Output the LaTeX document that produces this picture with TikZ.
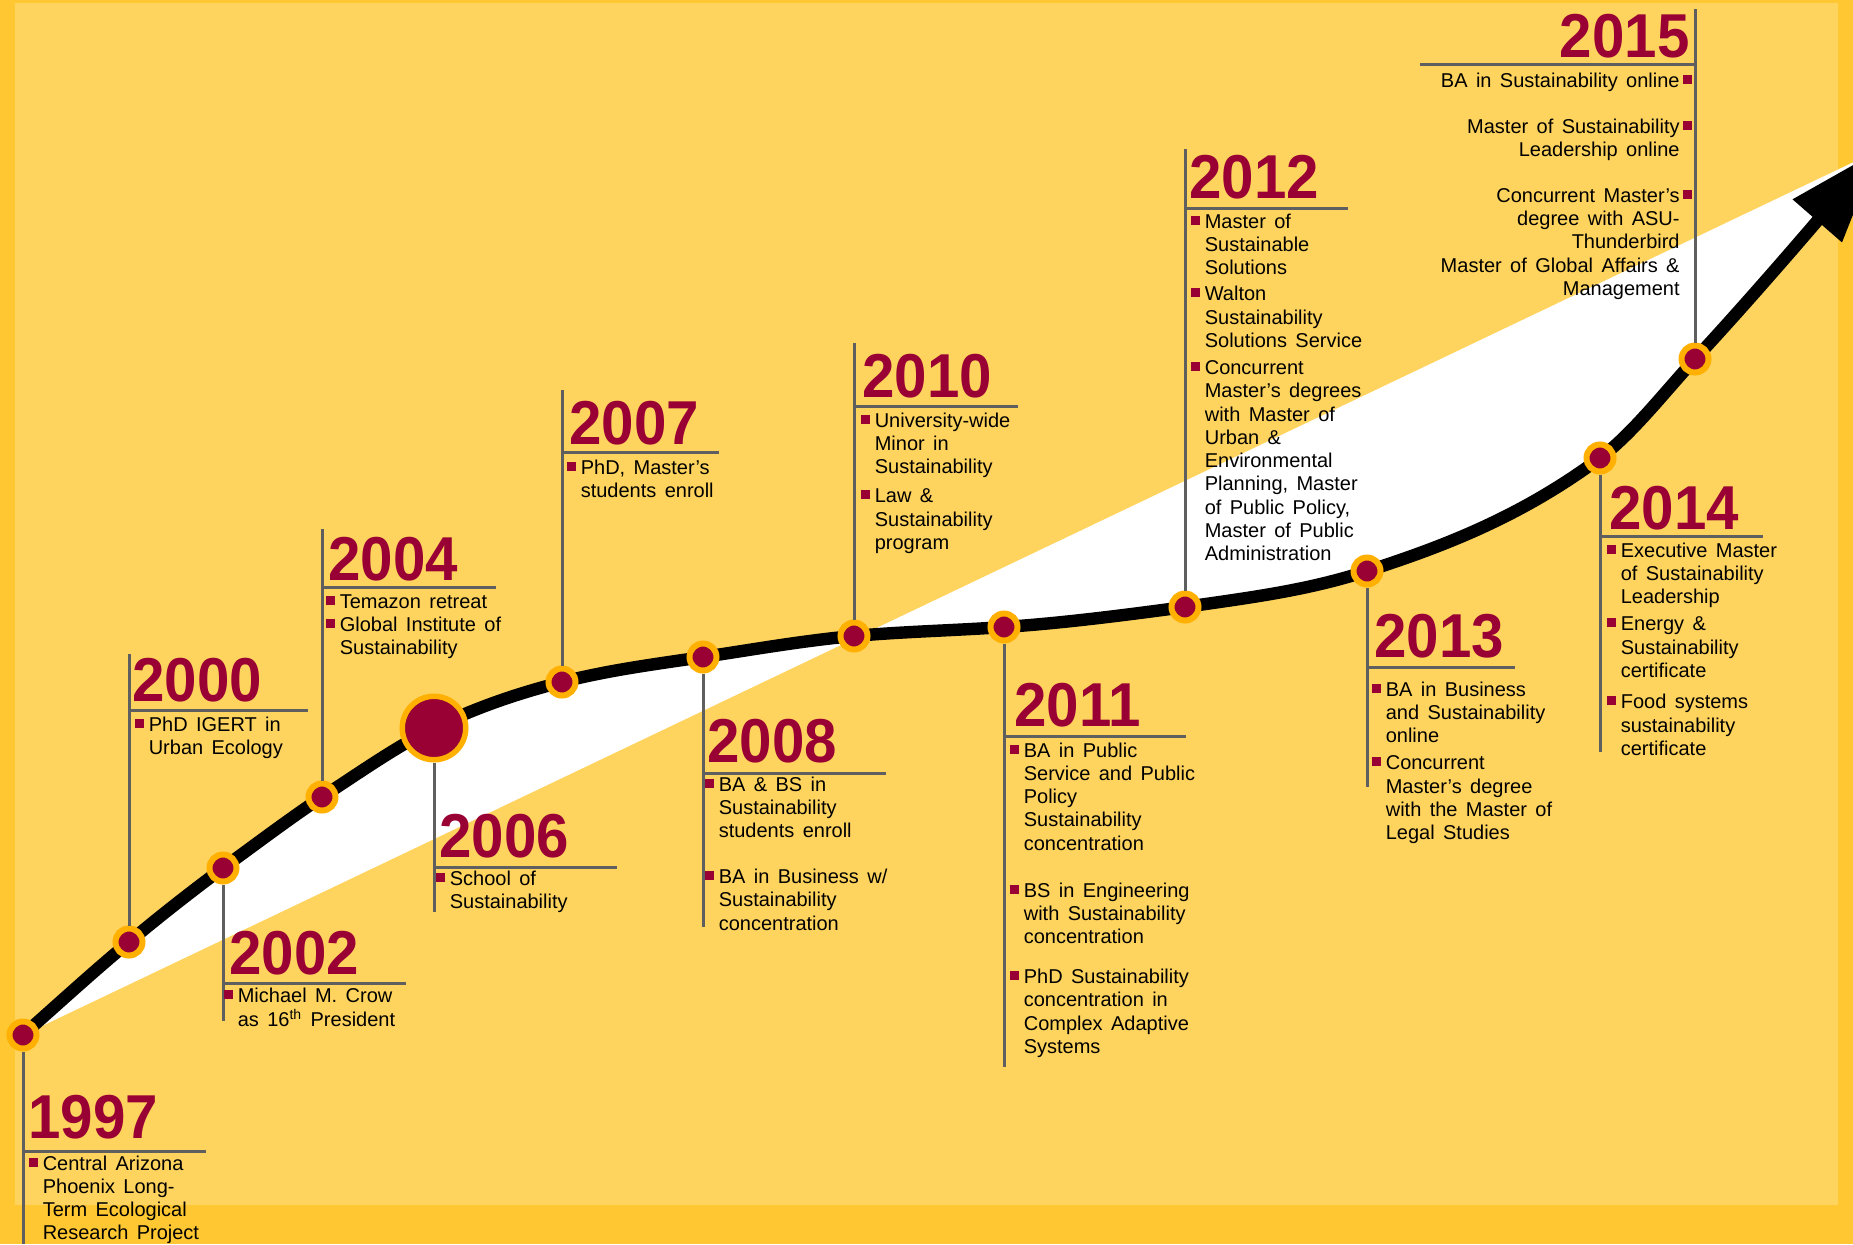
\documentclass[tikz,border=0pt]{standalone}
\usepackage{fontspec}
\setmainfont{Liberation Sans}
\usepackage{graphicx}
\usetikzlibrary{arrows.meta}
\definecolor{asumaroon}{HTML}{990033}
\definecolor{asugold}{HTML}{FFB000}
\definecolor{paper}{HTML}{FFD45E}
\definecolor{paperedge}{HTML}{FFC832}
\definecolor{stemgrey}{HTML}{5F5F5F}

\newcommand{\bul}{\textcolor{asumaroon}{\rule[1.75pt]{4.5pt}{4.5pt}}}
\newcommand{\milestonetext}[1]{\begin{tabular}[t]{@{}l@{\hspace{2.2pt}}l@{}}#1\end{tabular}}
\newcommand{\milestonetextr}[1]{\begin{tabular}[t]{@{}r@{\hspace{1.5pt}}l@{}}#1\end{tabular}}
\newcommand{\yr}[1]{\scalebox{0.94}[1]{#1}}
% the S-shaped line through all the years
\newcommand{\curvepath}{(p1997)
  .. controls +(35,-31) and +(-35,29) .. (p2000)
  .. controls +(31,-26) and +(-31,23) .. (p2002)
  .. controls +(33,-24) and +(-33,22) .. (p2004)
  .. controls +(37,-24) and +(-37,18) .. (p2006)
  .. controls +(43,-21) and +(-43,11) .. (p2007)
  .. controls +(47,-12) and +(-47,7) .. (p2008)
  .. controls +(50,-7.5) and +(-50,4.5) .. (p2010)
  .. controls +(50,-4.5) and +(-50,3.5) .. (p2011)
  .. controls +(60,-4) and +(-60,8) .. (p2012)
  .. controls +(61,-9) and +(-61,20) .. (p2013)
  .. controls +(78,-25) and +(-78,58) .. (p2014)
  .. controls +(32,-24) and +(-32,35) .. (p2015)
  .. controls +(61,-66) and +(-61,70) .. (tip)}

\tikzset{
  milestone/.style={circle, minimum size=13.5pt, inner sep=0pt,
    fill=asumaroon, draw=asugold, line width=3pt},
  bigmilestone/.style={milestone, minimum size=31.75pt, line width=2.75pt},
  stem/.style={draw=stemgrey, line width=1.5pt},
  yearlabel/.style={anchor=base west, inner sep=0pt, text=asumaroon,
    font=\fontsize{31}{31}\selectfont\bfseries},
  info/.style={anchor=base west, inner sep=0pt,
    font={\fontsize{10}{11.65}\selectfont\spaceskip=0.42em\relax}},
  timeline/.style={line width=6.2pt, -{Triangle[length=47pt,width=31pt]}},
}

\begin{document}
\begin{tikzpicture}[x=0.5pt, y=-0.5pt]
\useasboundingbox (0,0) rectangle (1853,1244);
% background
\fill [paperedge] (0,0) rectangle (1853,1244);
\fill [paper] (15,3) rectangle (1838,1205);

% points on the timeline
\coordinate (p1997) at (23,1035);
\coordinate (p2000) at (129,942);
\coordinate (p2002) at (223,868);
\coordinate (p2004) at (322,797);
\coordinate (p2006) at (434,728);
\coordinate (p2007) at (562,682);
\coordinate (p2008) at (703,657);
\coordinate (p2010) at (854,636);
\coordinate (p2011) at (1004,627);
\coordinate (p2012) at (1185,607);
\coordinate (p2013) at (1367,571);
\coordinate (p2014) at (1600,458);
\coordinate (p2015) at (1695,359);
\coordinate (tip) at (1879,150);

\fill [white] \curvepath -- cycle;
\draw [timeline] \curvepath;

% 1997
\node (d1997) [milestone] at (p1997) {};
\coordinate (e1997) at (23,1244);
\draw [stem] (d1997) -- (e1997);
\node (y1997) [yearlabel] at (28,1138) {\yr{1997}};
\draw [stem] (d1997 |- 0,1151) -- (206,1151);
\node (t1997) [info] at (29,1170) {\milestonetext{\bul & Central Arizona\\ & Phoenix Long-\\ & Term Ecological\\ & Research Project}};

% 2000
\node (d2000) [milestone] at (p2000) {};
\coordinate (e2000) at (129,654);
\draw [stem] (d2000) -- (e2000);
\node (y2000) [yearlabel] at (132,701) {\yr{2000}};
\draw [stem] (d2000 |- 0,710) -- (308,710);
\node (t2000) [info] at (135,731) {\milestonetext{\bul & PhD IGERT in\\ & Urban Ecology}};

% 2002
\node (d2002) [milestone] at (p2002) {};
\coordinate (e2002) at (223,1021);
\draw [stem] (d2002) -- (e2002);
\node (y2002) [yearlabel] at (229,974) {\yr{2002}};
\draw [stem] (d2002 |- 0,983) -- (406,983);
\node (t2002) [info] at (224,1002) {\milestonetext{\bul & Michael M. Crow\\ & as 16\textsuperscript{th} President}};

% 2004
\node (d2004) [milestone] at (p2004) {};
\coordinate (e2004) at (322,529);
\draw [stem] (d2004) -- (e2004);
\node (y2004) [yearlabel] at (328,580) {\yr{2004}};
\draw [stem] (d2004 |- 0,587) -- (496,587);
\node (t2004) [info] at (326,608) {\milestonetext{\bul & Temazon retreat\\ \bul & Global Institute of\\ & Sustainability}};

% 2006
\node (d2006) [bigmilestone] at (p2006) {};
\coordinate (e2006) at (434,912);
\draw [stem] (d2006) -- (e2006);
\node (y2006) [yearlabel] at (439,857) {\yr{2006}};
\draw [stem] (d2006 |- 0,867) -- (617,867);
\node (t2006) [info] at (436,885) {\milestonetext{\bul & School of\\ & Sustainability}};

% 2007
\node (d2007) [milestone] at (p2007) {};
\coordinate (e2007) at (562,390);
\draw [stem] (d2007) -- (e2007);
\node (y2007) [yearlabel] at (569,444) {\yr{2007}};
\draw [stem] (d2007 |- 0,452) -- (719,452);
\node (t2007) [info] at (567,474) {\milestonetext{\bul & PhD, Master’s\\ & students enroll}};

% 2008
\node (d2008) [milestone] at (p2008) {};
\coordinate (e2008) at (703,927);
\draw [stem] (d2008) -- (e2008);
\node (y2008) [yearlabel] at (707,762) {\yr{2008}};
\draw [stem] (d2008 |- 0,773) -- (886,773);
\node (t2008) [info] at (705,791) {\milestonetext{\bul & BA \& BS in\\ & Sustainability\\ & students enroll\\[11.35pt]
  \bul & BA in Business w/\\ & Sustainability\\ & concentration}};

% 2010
\node (d2010) [milestone] at (p2010) {};
\coordinate (e2010) at (854,343);
\draw [stem] (d2010) -- (e2010);
\node (y2010) [yearlabel] at (862,397) {\yr{2010}};
\draw [stem] (d2010 |- 0,406) -- (1018,406);
\node (t2010) [info] at (861,427) {\milestonetext{\bul & University-wide\\ & Minor in\\ & Sustainability\\[2.9pt]
  \bul & Law \&\\ & Sustainability\\ & program}};

% 2011
\node (d2011) [milestone] at (p2011) {};
\coordinate (e2011) at (1004,1067);
\draw [stem] (d2011) -- (e2011);
\node (y2011) [yearlabel] at (1014,726) {\yr{2011}};
\draw [stem] (d2011 |- 0,736) -- (1186,736);
\node (t2011) [info] at (1010,757) {\milestonetext{\bul & BA in Public\\ & Service and Public\\ & Policy\\ & Sustainability\\ & concentration\\[11.8pt]
  \bul & BS in Engineering\\ & with Sustainability\\ & concentration\\[8.3pt]
  \bul & PhD Sustainability\\ & concentration in\\ & Complex Adaptive\\ & Systems}};

% 2012
\node (d2012) [milestone] at (p2012) {};
\coordinate (e2012) at (1185,149);
\draw [stem] (d2012) -- (e2012);
\node (y2012) [yearlabel] at (1189,198) {\yr{2012}};
\draw [stem] (d2012 |- 0,208) -- (1348,208);
\node (t2012) [info] at (1191,228) {\milestonetext{\bul & Master of\\ & Sustainable\\ & Solutions\\[1.5pt]
  \bul & Walton\\ & Sustainability\\ & Solutions Service\\[1.8pt]
  \bul & Concurrent\\ & Master’s degrees\\ & with Master of\\ & Urban \&\\ & Environmental\\ & Planning, Master\\ & of Public Policy,\\ & Master of Public\\ & Administration}};

% 2013
\node (d2013) [milestone] at (p2013) {};
\coordinate (e2013) at (1367,787);
\draw [stem] (d2013) -- (e2013);
\node (y2013) [yearlabel] at (1374,657) {\yr{2013}};
\draw [stem] (d2013 |- 0,667) -- (1515,667);
\node (t2013) [info] at (1372,696) {\milestonetext{\bul & BA in Business\\ & and Sustainability\\ & online\\[2pt]
  \bul & Concurrent\\ & Master’s degree\\ & with the Master of\\ & Legal Studies}};

% 2014
\node (d2014) [milestone] at (p2014) {};
\coordinate (e2014) at (1600,752);
\draw [stem] (d2014) -- (e2014);
\node (y2014) [yearlabel] at (1609,529) {\yr{2014}};
\draw [stem] (d2014 |- 0,536) -- (1763,536);
\node (t2014) [info] at (1607,557) {\milestonetext{\bul & Executive Master\\ & of Sustainability\\ & Leadership\\[2pt]
  \bul & Energy \&\\ & Sustainability\\ & certificate\\[4pt]
  \bul & Food systems\\ & sustainability\\ & certificate}};

% 2015
\node (d2015) [milestone] at (p2015) {};
\coordinate (e2015) at (1695,9);
\draw [stem] (d2015) -- (e2015);
\node (y2015) [yearlabel, anchor=base east] at (1690,57) {\yr{2015}};
\draw [stem] (1420,64) -- (d2015 |- 0,64);
\node (t2015) [info, anchor=base east] at (1692,87) {\milestonetextr{BA in Sustainability online & \bul\\[11.35pt]
  Master of Sustainability & \bul\\ Leadership online & \\[11.35pt]
  Concurrent Master’s & \bul\\ degree with ASU- & \\ Thunderbird & \\ Master of Global Affairs \& & \\ Management & }};
\end{tikzpicture}
\end{document}
